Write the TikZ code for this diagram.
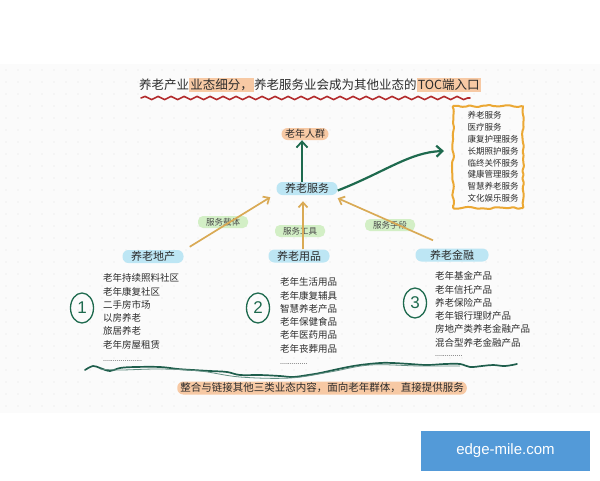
\documentclass[tikz,border=0pt]{standalone}
\usepackage{fontspec}
\setmainfont{Liberation Sans}
\newfontfamily\cjk{Noto Sans CJK SC}
\usetikzlibrary{arrows.meta,decorations.pathmorphing,shapes.geometric}
\definecolor{dkgreen}{HTML}{1E6A4E}
\definecolor{wavegreen}{HTML}{1F5E4C}
\definecolor{gold}{HTML}{D9AA55}
\definecolor{peach}{HTML}{F7C9A4}
\definecolor{sky}{HTML}{BDE6F4}
\definecolor{mint}{HTML}{D3EFC6}
\definecolor{redline}{HTML}{B22A2C}
\definecolor{orangeb}{HTML}{EBA834}
\definecolor{wm}{HTML}{539AD8}
\definecolor{txt}{HTML}{2B2B2B}
\newcommand{\hlt}[1]{{\setlength{\fboxsep}{1.2pt}\colorbox{peach}{#1}}}
\begin{document}
\begin{tikzpicture}[x=1pt,y=-1pt,
  bluebox/.style={fill=sky, rounded corners=6pt, font=\cjk\fontsize{11}{11}\selectfont, text=txt, minimum width=61pt, minimum height=13pt, inner sep=0pt},
  peachbox/.style={fill=peach, rounded corners=6pt, font=\cjk\fontsize{10}{10}\selectfont, text=txt, minimum width=47pt, minimum height=12pt, inner sep=0pt},
  greenlabel/.style={fill=mint, rounded corners=5pt, font=\cjk\fontsize{8.5}{8.5}\selectfont, text=txt!85, minimum width=50pt, minimum height=12pt, inner sep=0pt},
  listtext/.style={font=\cjk\fontsize{9.5}{13.3}\selectfont, align=left, anchor=north west, inner sep=0pt, text=txt},
  dotrow/.style={font=\fontsize{7}{7}\selectfont, text=txt, anchor=west, inner sep=0pt},
  numcircle/.style={ellipse, draw=dkgreen, line width=1.3pt, minimum width=23pt, minimum height=30pt, inner sep=0pt, text=dkgreen, font=\fontsize{17}{17}\selectfont},
  goldarrow/.style={draw=gold, line width=1.7pt, -{Straight Barb[length=5pt,width=9pt]}},
  greenarrow/.style={draw=dkgreen, line width=1.8pt, -{Straight Barb[length=6pt,width=11pt]}}
]
\useasboundingbox (0,0) rectangle (600,480);
\fill[white] (0,0) rectangle (600,480);
% paper
\fill[gray!3] (0,64) rectangle (600,413);
\foreach \i in {0,...,49} \foreach \j in {0,...,28} \fill[gray!22] (6+12*\i,70+12*\j) circle (0.7);

% title
\node[font=\cjk\fontsize{12.5}{12.5}\selectfont, text=txt, inner sep=0pt] (title) at (310,85)
  {养老产业\hlt{业态细分，}养老服务业会成为其他业态的\hlt{TOC端入口}};
\draw[redline, line width=1.6pt, line cap=round, decorate, decoration={snake, segment length=13pt, amplitude=1.6pt}]
  (141,98) -- (470,98);

% main nodes
\node[peachbox] (old) at (305,134) {老年人群};
\node[bluebox] (fw) at (307,188.5) {养老服务};
\node[draw=orangeb, line width=2pt, decorate, decoration={random steps, segment length=4pt, amplitude=1.1pt}, rounded corners=1pt, minimum width=70pt, minimum height=102pt] (svc) at (488,157) {};
\node[font=\cjk\fontsize{8.5}{11.8}\selectfont, align=left, inner sep=0pt, text=txt] (svct) at (493,157)
  {养老服务\\医疗服务\\康复护理服务\\长期照护服务\\临终关怀服务\\健康管理服务\\智慧养老服务\\文化娱乐服务};

\node[bluebox] (dc) at (153,256.5) {养老地产};
\node[bluebox] (yp) at (299,256) {养老用品};
\node[bluebox, minimum width=73pt] (jr) at (452,255) {养老金融};

\node[greenlabel] (l1) at (223,222) {服务载体};
\node[greenlabel] (l2) at (300,231) {服务工具};
\node[greenlabel] (l3) at (390,225) {服务手段};

% arrows
\draw[greenarrow] ([xshift=-5pt]fw.north) -- ([xshift=-3pt]old.south);
\draw[greenarrow, line width=2.2pt] ([yshift=-2pt]fw.east) .. controls (385,172) and (410,152) .. ([xshift=-8pt,yshift=6pt]svc.west);
\draw[goldarrow] ([xshift=6pt,yshift=3pt]dc.north east) -- ([xshift=-6pt,yshift=-2pt]fw.south west);
\draw[goldarrow] ([xshift=4pt]yp.north) -- ([xshift=-4pt,yshift=-6pt]fw.south);
\draw[goldarrow] ([xshift=-19pt,yshift=8pt]jr.north) -- ([yshift=-3pt]fw.south east);

% lists
\node[listtext] (list1) at (103,273.5) {老年持续照料社区\\老年康复社区\\二手房市场\\以房养老\\旅居养老\\老年房屋租赁};
\node[listtext] (list2) at (280,277.5) {老年生活用品\\老年康复辅具\\智慧养老产品\\老年保健食品\\老年医药用品\\老年丧葬用品};
\node[listtext] (list3) at (435,271.5) {老年基金产品\\老年信托产品\\养老保险产品\\老年银行理财产品\\房地产类养老金融产品\\混合型养老金融产品};
\node[dotrow] (d1) at (103,361) {....................};
\node[dotrow] (d2) at (280,364) {..............};
\node[dotrow] (d3) at (435,356) {..............};

% circled numbers
\node[numcircle] (c1) at (82,308) {1};
\node[numcircle] (c2) at (258,308) {2};
\node[numcircle] (c3) at (415,303) {3};

% green wave
\draw[wavegreen, line width=1.7pt, line cap=round] plot[smooth, tension=0.6] coordinates {
 (85,370) (93,366) (100,368) (110,371) (120,368) (135,367) (160,367) (178,369) (193,370) (210,371) (227,372) (240,375) (260,375) (280,376) (293,377) (308,375) (320,373) (343,368) (360,365) (380,363) (393,363) (410,364) (427,365) (445,364) (460,364) (470,367) (482,366) (493,365) (505,366) (517,364)};
\draw[wavegreen!70, line width=0.8pt] plot[smooth, tension=0.6] coordinates {
 (100,369) (120,370) (160,369) (200,371) (240,377) (290,378) (330,372) (370,365) (420,366) (460,366)};

% bottom text
\node[fill=peach, rounded corners=6pt, font=\cjk\fontsize{10.5}{10.5}\selectfont, text=txt, inner xsep=3pt, minimum height=13pt, inner ysep=0pt] (bt) at (322,388) {整合与链接其他三类业态内容，面向老年群体，直接提供服务};

% watermark
\node[fill=wm, minimum width=169pt, minimum height=40pt, inner sep=0pt, text=white, font=\fontsize{15}{15}\selectfont] (wmk) at (505.5,450.5) {edge-mile.com};
\end{tikzpicture}
\end{document}
